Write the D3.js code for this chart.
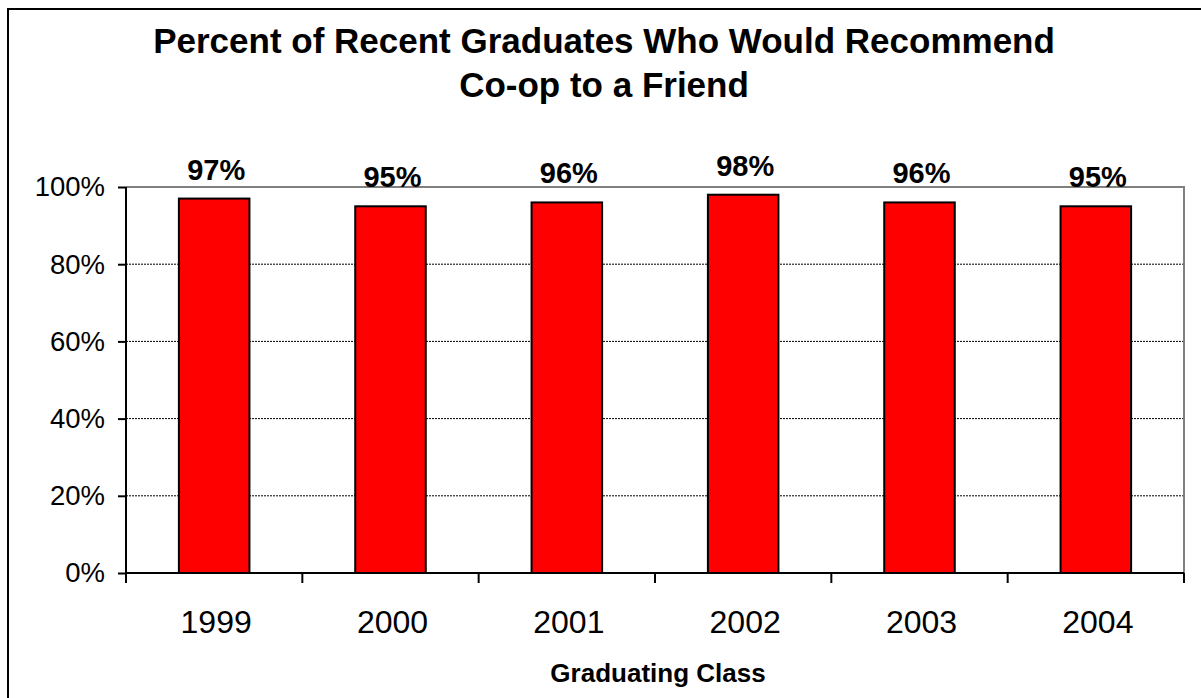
<!DOCTYPE html>
<html>
<head>
<meta charset="utf-8">
<script src="https://cdn.jsdelivr.net/npm/d3@7"></script>
<style>
  body { margin: 0; background: #fff; }
  text { font-family: Arial, "Liberation Sans", sans-serif; fill: #000; }
</style>
</head>
<body>
<script>
const years = ['1999', '2000', '2001', '2002', '2003', '2004']
const percents = [97, 95, 96, 98, 96, 95]
const yTicks = [0, 20, 40, 60, 80, 100]
const titleLines = ['Percent of Recent Graduates Who Would Recommend', 'Co-op to a Friend']
const xTitle = 'Graduating Class'

const fullWidth = 1201
const fullHeight = 698
const margin = { top: 187, right: 17, bottom: 125, left: 126 }
const width = fullWidth - margin.left - margin.right
const height = fullHeight - margin.top - margin.bottom
const barColor = '#FF0000'

const svg = d3.select('body')
  .append('svg')
  .attr('width', fullWidth)
  .attr('height', fullHeight)

// outer chart frame, runs off the right and bottom edges
svg.append('rect')
  .attr('x', 8)
  .attr('y', 9)
  .attr('width', fullWidth + 20)
  .attr('height', fullHeight + 20)
  .attr('fill', 'none')
  .attr('stroke', '#000')
  .attr('stroke-width', 2)

svg.selectAll('.title')
  .data(titleLines)
  .enter().append('text')
  .attr('class', 'title')
  .attr('x', 604)
  .attr('y', (d, i) => 53 + i * 44)
  .attr('text-anchor', 'middle')
  .attr('font-size', 35)
  .attr('font-weight', 'bold')
  .text(d => d)

const g = svg.append('g')
  .attr('transform', `translate(${margin.left},${margin.top})`)

const x = d3.scaleBand()
  .domain(years)
  .range([0, width])

const y = d3.scaleLinear()
  .domain([0, 100])
  .range([height, 0])

// dotted gridlines
g.selectAll('.grid')
  .data(yTicks.filter(d => d > 0 && d < 100))
  .enter().append('line')
  .attr('class', 'grid')
  .attr('x1', 0)
  .attr('x2', width)
  .attr('y1', d => y(d))
  .attr('y2', d => y(d))
  .attr('stroke', '#000')
  .attr('stroke-width', 1)
  .attr('stroke-dasharray', '2,1')

// plot area top/right border in grey
g.append('path')
  .attr('d', `M0,${y(100)}H${width}V${height}`)
  .attr('fill', 'none')
  .attr('stroke', '#808080')
  .attr('stroke-width', 2)

const barW = x.bandwidth() * 0.4

g.selectAll('.bar')
  .data(percents)
  .enter().append('rect')
  .attr('class', 'bar')
  .attr('x', (d, i) => x(years[i]) + (x.bandwidth() - barW) / 2)
  .attr('y', d => y(d))
  .attr('width', barW)
  .attr('height', d => height - y(d))
  .attr('fill', barColor)
  .attr('stroke', '#000')
  .attr('stroke-width', 2)

g.selectAll('.label')
  .data(percents)
  .enter().append('text')
  .attr('class', 'label')
  .attr('x', (d, i) => x(years[i]) + x.bandwidth() / 2 + 2)
  .attr('y', d => y(d) - 19)
  .attr('text-anchor', 'middle')
  .attr('font-size', 29)
  .attr('font-weight', 'bold')
  .text(d => d + '%')

// y axis
const yAxis = d3.axisLeft(y)
  .tickValues(yTicks)
  .tickSize(8)
  .tickPadding(13)
  .tickFormat(d => d + '%')

const yg = g.append('g').call(yAxis)
yg.select('.domain').remove()
yg.selectAll('.tick line').attr('stroke', '#000').attr('stroke-width', 2)
yg.selectAll('.tick text')
  .attr('font-size', 27.5)
  .attr('font-family', 'Arial, "Liberation Sans", sans-serif')
  .attr('fill', '#000')

g.append('line')
  .attr('x1', 0).attr('x2', 0)
  .attr('y1', 0).attr('y2', height + 1)
  .attr('stroke', '#000')
  .attr('stroke-width', 2)

// x axis: ticks between categories, labels centered
const xg = g.append('g')
  .attr('transform', `translate(0,${height})`)

xg.append('line')
  .attr('x1', -1).attr('x2', width)
  .attr('stroke', '#000')
  .attr('stroke-width', 2)

const bounds = years.map(d => x(d)).concat([width])
xg.selectAll('.xtick')
  .data(bounds)
  .enter().append('line')
  .attr('class', 'xtick')
  .attr('x1', d => d).attr('x2', d => d)
  .attr('y1', 0).attr('y2', 10)
  .attr('stroke', '#000')
  .attr('stroke-width', 2)

xg.selectAll('.xlabel')
  .data(years)
  .enter().append('text')
  .attr('class', 'xlabel')
  .attr('x', d => x(d) + x.bandwidth() / 2 + 2)
  .attr('y', 60)
  .attr('text-anchor', 'middle')
  .attr('font-size', 32)
  .text(d => d)

svg.append('text')
  .attr('x', 658)
  .attr('y', 682)
  .attr('text-anchor', 'middle')
  .attr('font-size', 26)
  .attr('font-weight', 'bold')
  .text(xTitle)
</script>
</body>
</html>
